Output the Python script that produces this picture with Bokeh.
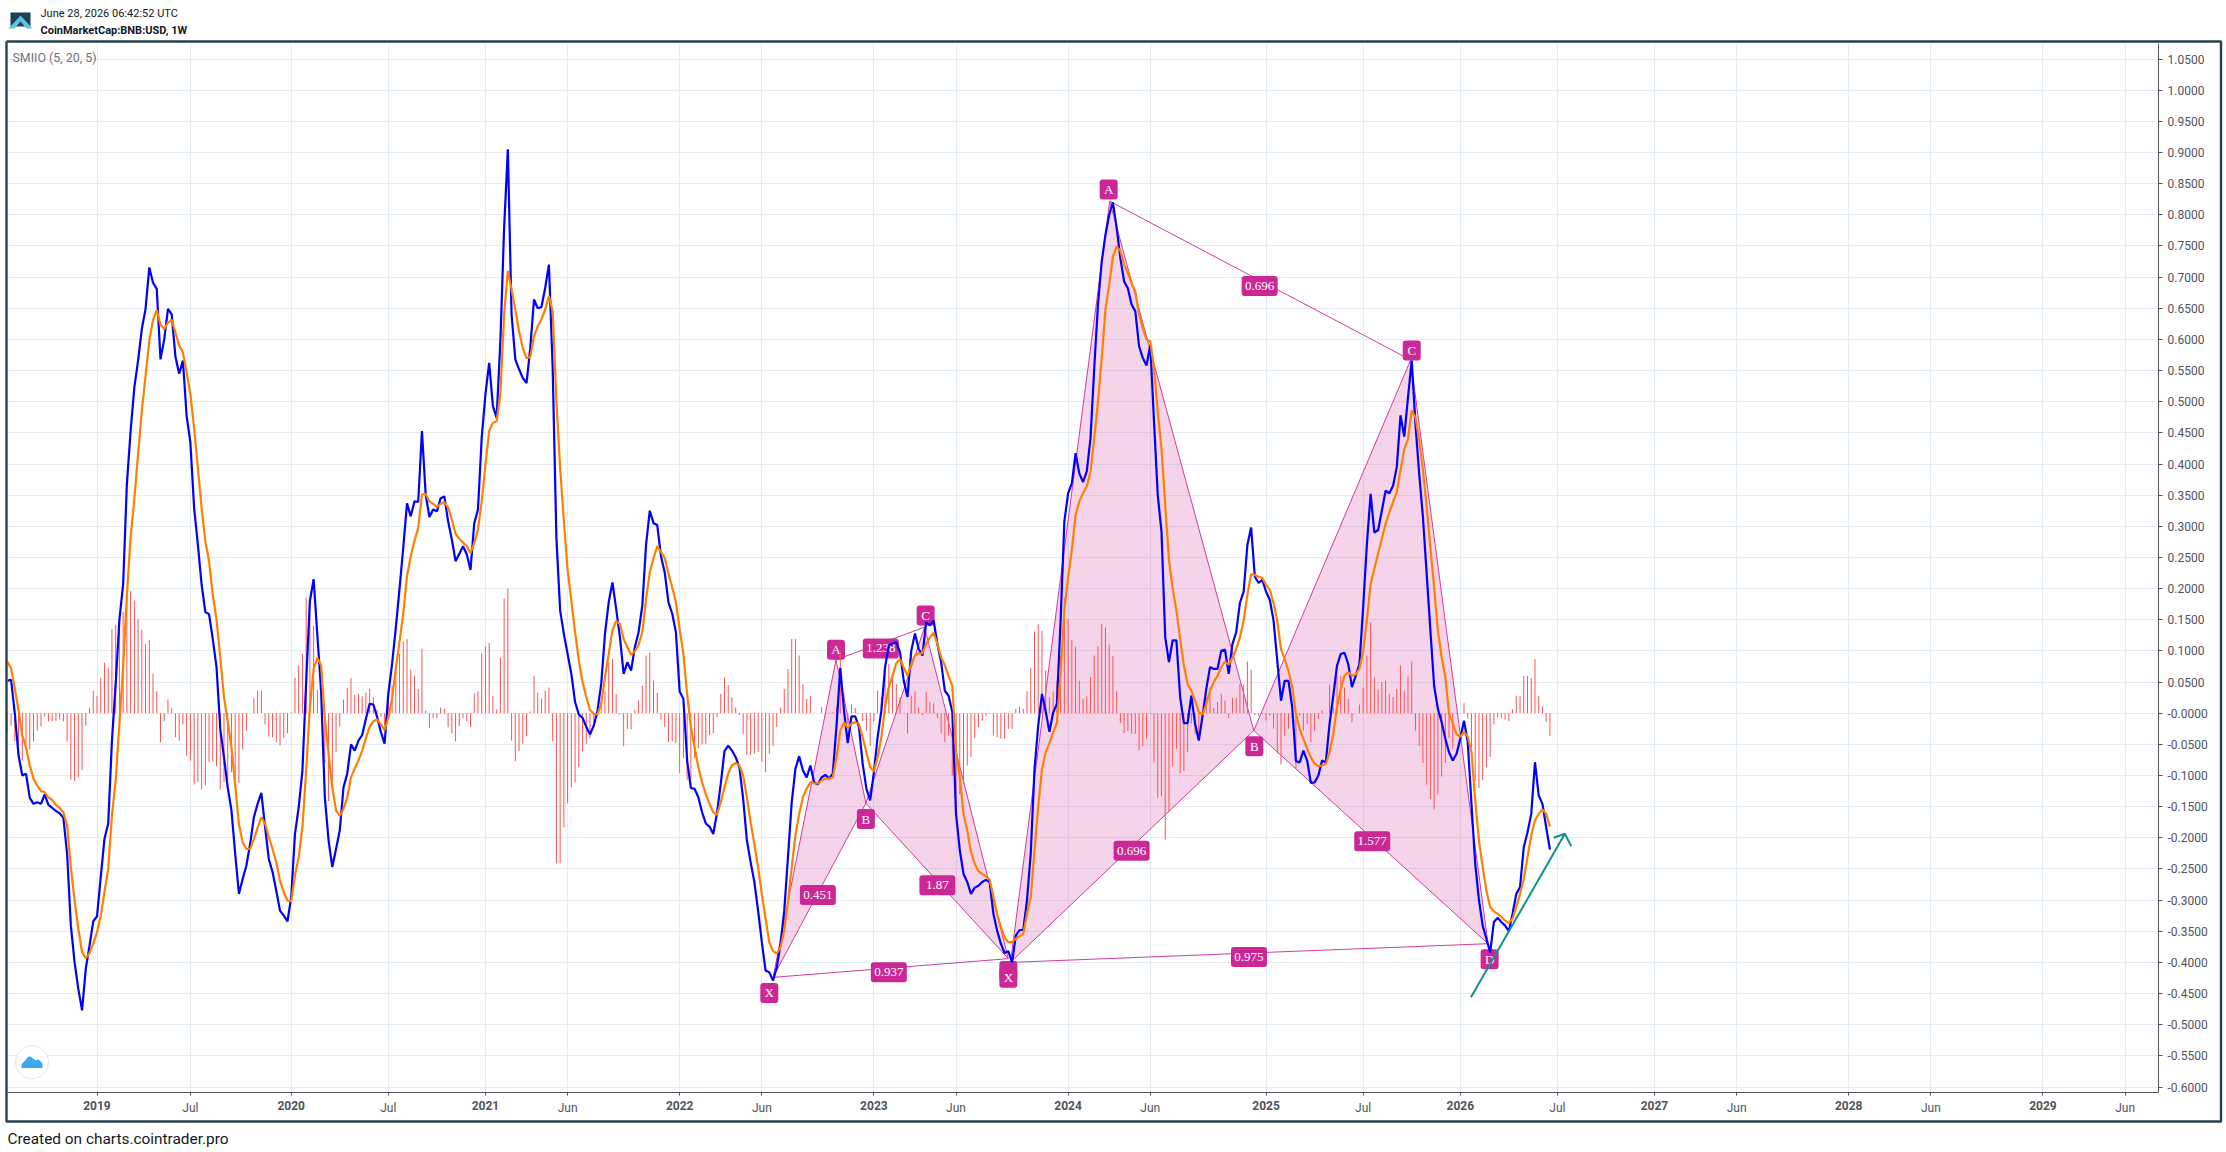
import numpy as np
import pandas as pd
from bokeh.embed import file_html
from bokeh.resources import INLINE
from bokeh.plotting import figure
from bokeh.core.properties import value
from bokeh.models import Range1d, LinearAxis, FixedTicker, Grid

title_date = "June 28, 2026 06:42:52 UTC"
title_symbol = "CoinMarketCap:BNB:USD, 1W"
study_label = "SMIIO (5, 20, 5)"
footer = "Created on charts.cointrader.pro"

first_week = "2018-07-23"

smiio = [
 .052,.0535,-.001,-.068,-.100,-.097,-.136,-.1455,-.143,-.1455,
 -.1305,-.147,-.152,-.157,-.1605,-.168,-.226,-.341,-.400,-.4425,
 -.477,-.410,-.373,-.334,-.326,-.263,-.2017,-.1776,-.044,.047,
 .15,.207,.368,.453,.523,.566,.617,.649,.7155,.691,
 .681,.568,.60,.649,.64,.572,.545,.566,.477,.4345,
 .33,.271,.207,.1625,.159,.119,.074,-.025,-.071,-.119,
 -.156,-.226,-.29,-.266,-.2445,-.21,-.167,-.1455,-.128,-.183,
 -.234,-.255,-.285,-.317,-.325,-.334,-.295,-.194,-.151,-.092,
 .05,.18,.215,.125,.036,-.135,-.204,-.247,-.218,-.188,
 -.119,-.097,-.05,-.06,-.044,-.035,-.009,.015,.014,-.006,
 -.03,-.049,.031,.079,.137,.20,.266,.337,.316,.34,
 .339,.453,.351,.315,.327,.324,.345,.348,.308,.279,
 .244,.256,.268,.255,.23,.305,.327,.442,.512,.5625,
 .493,.474,.597,.779,.905,.64,.568,.552,.538,.53,
 .586,.664,.65,.652,.683,.72,.554,.281,.165,.127,
 .095,.063,.018,-.002,-.0075,-.022,-.034,-.02,.004,.047,
 .127,.178,.21,.1675,.122,.063,.082,.0685,.106,.13,
 .173,.27,.325,.305,.302,.252,.226,.178,.16,.13,
 .035,.023,-.076,-.12,-.1215,-.135,-.159,-.177,-.182,-.194,
 -.16,-.1135,-.061,-.052,-.06,-.0706,-.087,-.1375,-.204,-.239,
 -.271,-.317,-.3676,-.413,-.416,-.429,-.408,-.37,-.317,-.231,
 -.143,-.089,-.069,-.092,-.103,-.084,-.111,-.1145,-.103,-.099,
 -.105,-.097,-.02,.073,.004,-.048,-.005,-.005,-.022,-.081,
 -.1215,-.14,-.095,-.0385,.004,.074,.1086,.112,.114,.098,
 .052,.026,.10,.128,.103,.0925,.146,.141,.149,.111,
 .082,.036,.028,.002,-.162,-.22,-.258,-.271,-.29,-.28,
 -.277,-.271,-.2675,-.271,-.322,-.349,-.37,-.385,-.382,-.40,
 -.357,-.348,-.348,-.30,-.225,-.09,-.02,.031,.003,-.03,
 .001,.015,.149,.308,.353,.369,.4175,.385,.371,.388,
 .4415,.554,.656,.725,.768,.80,.82,.779,.73,.693,
 .682,.656,.645,.589,.57,.558,.591,.468,.35,.292,
 .122,.082,.117,.117,.026,-.016,-.016,.028,-.017,-.044,
 -.004,.039,.074,.071,.071,.10,.102,.063,.111,.13,
 .177,.195,.27,.298,.219,.209,.214,.195,.182,.149,
 .0845,.02,.052,.052,.01,-.077,-.079,-.06,-.076,-.112,
 -.111,-.10,-.076,-.079,-.017,.028,.0765,.095,.097,.079,
 .042,.06,.079,.17,.272,.352,.29,.294,.325,.357,
 .353,.365,.395,.478,.444,.507,.566,.464,.384,.315,
 .224,.133,.044,.007,-.014,-.041,-.063,-.076,-.065,-.041,
 -.012,-.0465,-.1455,-.242,-.30,-.341,-.362,-.384,-.335,-.3285,
 -.335,-.341,-.35,-.322,-.29,-.279,-.215,-.191,-.1616,-.0787,
 -.132,-.1455,-.183,-.219,
]

signal = [
 .083,.072,.039,.004,-.036,-.055,-.084,-.105,-.116,-.125,
 -.127,-.135,-.139,-.147,-.152,-.159,-.18,-.247,-.301,-.346,
 -.384,-.393,-.385,-.37,-.3515,-.325,-.287,-.25,-.164,-.108,
 -.017,.074,.19,.282,.3435,.416,.485,.5415,.598,.631,
 .647,.6235,.6165,.627,.6315,.611,.59,.579,.547,.512,
 .4585,.394,.33,.2765,.244,.19,.15,.09,.026,-.014,
 -.055,-.116,-.178,-.207,-.218,-.218,-.202,-.184,-.167,-.1766,
 -.199,-.218,-.239,-.269,-.287,-.301,-.302,-.26,-.231,-.183,
 -.092,.01,.071,.089,.0765,-.009,-.065,-.119,-.156,-.165,
 -.1536,-.135,-.103,-.089,-.076,-.06,-.04,-.022,-.013,-.01,
 -.018,-.027,-.0075,.023,.071,.115,.16,.22,.252,.277,
 .297,.351,.352,.34,.336,.331,.336,.339,.33,.311,
 .288,.28,.274,.268,.257,.273,.295,.34,.399,.453,
 .466,.469,.512,.64,.71,.68,.648,.613,.586,.57,
 .5715,.605,.621,.632,.648,.67,.645,.501,.394,.308,
 .23,.181,.13,.085,.05,.026,.005,-.001,-.002,.015,
 .058,.095,.133,.148,.143,.119,.106,.094,.099,.11,
 .13,.183,.226,.249,.268,.259,.249,.224,.202,.178,
 .135,.095,.031,-.022,-.055,-.087,-.111,-.13,-.1456,-.159,
 -.163,-.143,-.119,-.097,-.084,-.08,-.084,-.10,-.135,-.175,
 -.21,-.247,-.29,-.33,-.3676,-.382,-.386,-.3756,-.349,-.303,
 -.247,-.196,-.1616,-.135,-.121,-.111,-.1124,-.113,-.108,-.105,
 -.105,-.103,-.071,-.028,-.0144,-.0235,-.017,-.0144,-.017,-.0385,
 -.0626,-.087,-.093,-.071,-.0385,.01,.042,.06,.08,.087,
 .073,.06,.079,.0926,.096,.096,.111,.122,.129,.111,
 .09,.0765,.06,.044,-.06,-.103,-.1616,-.188,-.223,-.242,
 -.2536,-.258,-.262,-.267,-.295,-.322,-.3435,-.36,-.3676,-.3676,
 -.362,-.358,-.354,-.322,-.295,-.22,-.15,-.09,-.063,-.048,
 -.031,-.016,.065,.165,.219,.262,.318,.34,.353,.364,
 .388,.4415,.5,.57,.648,.688,.733,.749,.742,.72,
 .7065,.69,.677,.64,.618,.6,.597,.554,.484,.425,
 .334,.246,.2,.165,.119,.0765,.047,.036,.02,.0016,
 -.002,.015,.036,.05,.06,.074,.083,.078,.089,.103,
 .122,.149,.19,.223,.222,.219,.217,.206,.198,.177,
 .148,.103,.087,.068,.042,-.001,-.025,-.0412,-.057,-.071,
 -.081,-.085,-.084,-.082,-.0626,-.033,.01,.039,.06,.066,
 .06,.062,.071,.10,.15,.2076,.2317,.256,.28,.304,
 .3226,.339,.355,.39,.424,.44,.486,.475,.438,.39,
 .331,.266,.202,.133,.09,.058,-.001,-.017,-.034,-.0375,
 -.03,-.0375,-.0626,-.14,-.204,-.247,-.285,-.311,-.318,-.322,
 -.327,-.333,-.337,-.33,-.311,-.29,-.266,-.231,-.196,-.172,
 -.1616,-.1546,-.1616,-.182,
]

histogram = [
 -.0305,-.0198,-.045,-.0733,-.076,-.049,-.058,-.0455,-.028,-.021,
 -.005,-.013,-.013,-.012,-.01,-.013,-.0455,-.1065,-.109,-.103,
 -.091,-.02,.0086,.036,.028,.057,.081,.073,.135,.142,
 .151,.1625,.197,.196,.181,.151,.134,.111,.117,.063,
 .035,-.0465,-.013,.022,.008,-.0385,-.044,-.018,-.068,-.076,
 -.1145,-.11,-.1225,-.116,-.0787,-.0776,-.085,-.1225,-.111,-.108,
 -.0947,-.117,-.112,-.058,-.028,0,.024,.036,.036,-.018,
 -.0375,-.0385,-.0465,-.052,-.04,-.032,.0016,.057,.0765,.095,
 .1855,.16,.14,.037,0,-.08,-.141,-.12,-.0626,-.021,
 .022,.041,.056,.029,.031,.027,.033,.039,.025,.005,
 -.006,-.02,.031,.0444,.0712,.095,.115,.119,.0702,.0605,
 .039,.1033,.004,-.024,-.008,-.008,.009,.0075,-.0225,-.032,
 -.045,-.021,-.008,-.013,-.0225,.032,.035,.096,.107,.113,
 .028,.006,.0894,.184,.1997,-.044,-.077,-.061,-.049,-.037,
 .0027,.06,.033,.0236,.036,.0412,-.045,-.241,-.241,-.183,
 -.1445,-.1188,-.1108,-.0867,-.061,-.0492,-.04,-.015,-.005,.02,
 .035,.0813,.0872,.03,-.0021,-.053,-.0257,-.0257,.0054,.0203,
 .0444,.0926,.0969,.0525,.033,-.0102,-.0225,-.0466,-.0455,-.048,
 -.0964,-.072,-.107,-.107,-.072,-.056,-.05,-.049,-.035,-.032,
 -.0064,.031,.0573,.045,.0257,.009,-.0027,-.033,-.067,-.067,
 -.065,-.0626,-.0776,-.0947,-.065,-.053,-.0225,.009,.039,.071,
 .119,.119,.0926,.047,.023,.028,.001,0,.0096,0,
 .001,.0016,.0096,.1006,.031,-.017,.014,.0086,-.001,-.012,
 -.028,-.053,-.013,.036,.026,.066,.079,.058,.047,.026,
 0,-.033,.028,.035,.0096,-.0027,.034,.018,.016,-.008,
 -.033,-.0465,-.036,-.1,-.13,-.13,-.113,-.084,-.07,-.04,
 -.0225,-.012,-.004,-.001,-.036,-.0385,-.041,-.041,-.025,-.025,
 .007,.0107,.007,.035,.073,.131,.143,.132,.0685,.0257,
 .035,.052,.0926,.186,.151,.118,.107,.052,.023,.027,
 .058,.0926,.1075,.143,.138,.11,.0915,.035,-.016,-.032,
 -.029,-.033,-.033,-.06,-.053,-.041,-.001,-.0787,-.136,-.133,
 -.203,-.159,-.085,-.057,-.096,-.093,-.0626,-.017,-.033,-.044,
 -.001,.026,.041,.0086,.018,.031,.02,-.008,.0246,.0246,
 .047,.046,.083,.0696,-.003,-.004,-.001,-.0118,-.004,-.025,
 -.065,-.082,-.036,-.025,-.009,-.089,-.004,-.028,-.017,-.0465,
 -.028,-.009,.005,0,.046,.0096,.06,.06,.041,.023,
 -.0144,0,.014,.041,.0926,.146,.057,.038,.05,.052,
 .031,.026,.039,.0765,.036,.059,.083,-.028,-.053,-.08,
 -.1145,-.1375,-.1546,-.1305,-.1017,-.08,-.04,-.057,-.001,-.001,
 .016,-.0086,-.056,-.109,-.12,-.107,-.087,-.07,-.018,-.0064,
 -.008,-.01,-.013,.006,.028,.027,.06,.06,.056,.087,
 .028,.0107,-.0144,-.037,
]

month_ticks = ["2019-07-01","2020-07-06","2021-06-07","2022-06-06","2023-06-05","2024-06-03",
               "2025-07-07","2026-07-06","2027-06-07","2028-06-05","2029-06-04"]
month_labels = ["Jul","Jul","Jun","Jun","Jun","Jun","Jul","Jul","Jun","Jun","Jun"]
year_ticks = ["2019-01-07","2020-01-06","2021-01-04","2022-01-03","2023-01-02","2024-01-01",
              "2025-01-06","2026-01-05","2027-01-04","2028-01-03","2029-01-01"]
year_labels = ["2019","2020","2021","2022","2023","2024","2025","2026","2027","2028","2029"]
y_tick_labels = ["1.0500","1.0000","0.9500","0.9000","0.8500","0.8000","0.7500","0.7000","0.6500",
                 "0.6000","0.5500","0.5000","0.4500","0.4000","0.3500","0.3000","0.2500","0.2000",
                 "0.1500","0.1000","0.0500","-0.0000","-0.0500","-0.1000","-0.1500","-0.2000",
                 "-0.2500","-0.3000","-0.3500","-0.4000","-0.4500","-0.5000","-0.5500","-0.6000"]

# Harmonic patterns: X, A, B, C, D pivots
p1_dates = ["2022-06-27","2022-10-23","2022-12-18","2023-04-07","2023-09-11"]
p1_vals = [-.424,.0857,-.1445,.138,-.394]
p2_dates = ["2023-09-15","2024-03-19","2024-12-14","2025-10-04","2026-02-26"]
p2_vals = [-.40,.8218,-.0278,.567,-.370]

letter_text = ["X","A","B","C","D","X","A","B","C","D"]
letter_dates = ["2022-06-20","2022-10-23","2022-12-18","2023-04-09","2023-09-11",
                "2023-09-11","2024-03-17","2024-12-15","2025-10-06","2026-03-01"]
letter_vals = [-.449,.102,-.170,.157,-.414,-.4247,.8406,-.053,.582,-.395]

ratio_text = ["0.451","1.238","1.87","0.937","0.696","0.696","1.577","0.975"]
ratio_dates = ["2022-09-19","2023-01-15","2023-05-01","2023-01-30",
               "2024-04-29","2024-12-25","2025-07-24","2024-12-05"]
ratio_vals = [-.292,.104,-.276,-.4157,-.2209,.6858,-.2056,-.3913]

trend_dates = ["2026-01-25","2026-07-20"]
trend_vals = [-.456,-.1935]
head_dates = ["2026-06-29","2026-07-20","2026-08-01"]
head_vals = [-.2,-.1935,-.2135]

def ms(d):
    return pd.Timestamp(d).value / 1e6

def msl(ds):
    return [ms(d) for d in ds]

assert len(smiio) == len(signal) == len(histogram) == 414, (len(smiio), len(signal), len(histogram))
weeks = pd.date_range(first_week, periods=len(smiio), freq="7D")
wx = [t.value / 1e6 for t in weeks]

W, H = 2226, 1152
FL, FR, FT, FB = 7, 2158, 43, 1092
DAY = 86400000.0
x0 = ms("2019-01-07")
px_per_day = 3.735 / 7
x_start = x0 - (96.5 - FL) / px_per_day * DAY
x_end = x0 + (FR - 96.5) / px_per_day * DAY
y_top = (712.7 - FT) / 623
y_bot = (712.7 - FB) / 623

GRID = "#e3edf3"
AXIS = "#50535e"
PINK = "#cc2895"
ABS = {"position": "absolute", "left": "0px", "top": "0px"}

p = figure(width=W, height=H, output_backend="svg", toolbar_location=None,
           x_range=Range1d(x_start, x_end), y_range=Range1d(y_bot, y_top),
           x_axis_location=None, y_axis_location=None,
           min_border_left=FL, min_border_right=W - FR, min_border_top=FT, min_border_bottom=H - FB,
           styles=ABS)
p.grid.visible = False
p.outline_line_color = None
p.background_fill_color = "white"

all_x = sorted(msl(month_ticks) + msl(year_ticks))
overrides = {ms(d): l for d, l in zip(month_ticks, month_labels)}
overrides.update({ms(d): " " for d in year_ticks})
xax = LinearAxis(ticker=FixedTicker(ticks=all_x), major_label_overrides=overrides,
                 axis_line_color=AXIS, major_tick_line_color=AXIS, major_tick_in=0, major_tick_out=3,
                 minor_tick_line_color=None, major_label_text_color=AXIS,
                 major_label_text_font="Roboto", major_label_text_font_size="12px",
                 major_label_standoff=5)
p.add_layout(xax, "below")

y_ticks = [float(s) + 0.0 for s in y_tick_labels]
yax = LinearAxis(ticker=FixedTicker(ticks=y_ticks),
                 major_label_overrides={t: s for t, s in zip(y_ticks, y_tick_labels)},
                 axis_line_color=AXIS, major_tick_line_color=AXIS, major_tick_in=0, major_tick_out=4,
                 minor_tick_line_color=None, major_label_text_color=AXIS,
                 major_label_text_font="Roboto", major_label_text_font_size="12px",
                 major_label_standoff=5)
p.add_layout(yax, "right")

p.add_layout(Grid(dimension=0, ticker=FixedTicker(ticks=all_x), grid_line_color=GRID, grid_line_width=1))
p.add_layout(Grid(dimension=1, ticker=FixedTicker(ticks=y_ticks), grid_line_color=GRID, grid_line_width=1))

def pattern(dates, vals):
    xs = msl(dates)
    for tri in ((0, 1, 2), (2, 3, 4)):
        p.patch([xs[i] for i in tri], [vals[i] for i in tri], fill_color=PINK, fill_alpha=0.2,
                line_color=PINK, line_width=1, line_alpha=0.9)
    for a, b in ((1, 3), (0, 4)):
        p.line([xs[a], xs[b]], [vals[a], vals[b]], line_color=PINK, line_width=1, line_alpha=0.9)

pattern(p1_dates, p1_vals)
pattern(p2_dates, p2_vals)

p.rect(msl(ratio_dates), ratio_vals, width=36, height=20, width_units="screen", height_units="screen",
       fill_color=PINK, line_color=None, border_radius=3)
p.text(msl(ratio_dates), ratio_vals, text=ratio_text, text_color="white", text_align="center",
       text_baseline="middle", text_font=value("Liberation Serif"), text_font_size="13px")
for t, d, v in zip(letter_text, letter_dates, letter_vals):
    p.rect([ms(d)], [v], width=18, height=20, width_units="screen", height_units="screen",
           fill_color=PINK, line_color=None, border_radius=3)
    p.text([ms(d)], [v], text=[t], text_color="white", text_align="center",
           text_baseline="middle", text_font=value("Liberation Serif"), text_font_size="13px")

p.segment(wx, [0] * len(wx), wx, histogram, line_color="#ff5252", line_width=1)
p.line(wx, smiio, line_color="#0000ff", line_width=2.2)
p.line(wx, signal, line_color="#ff7f00", line_width=2.2)

p.line(msl(trend_dates), trend_vals, line_color="#0e9486", line_width=2)
p.line(msl(head_dates), head_vals, line_color="#0e9486", line_width=2)

# Transparent figure: the bold year labels of the time axis
py = figure(width=W, height=H, output_backend="svg", toolbar_location=None,
            x_range=Range1d(x_start, x_end), y_range=Range1d(y_bot, y_top),
            x_axis_location=None, y_axis_location=None,
            min_border_left=FL, min_border_right=W - FR, min_border_top=FT, min_border_bottom=H - FB,
            background_fill_color=None, border_fill_color=None, styles=ABS)
py.grid.visible = False
py.outline_line_color = None
py.add_layout(LinearAxis(ticker=FixedTicker(ticks=msl(year_ticks)),
                         major_label_overrides={ms(d): t for d, t in zip(year_ticks, year_labels)},
                         axis_line_color=None, major_tick_line_color=None, major_tick_in=0, major_tick_out=3,
                         minor_tick_line_color=None, major_label_text_color=AXIS,
                         major_label_text_font="Roboto", major_label_text_font_size="12px",
                         major_label_text_font_style="bold", major_label_standoff=5), "below")

# Transparent page-sized figure: chart frame, logos and page texts
d = figure(width=W, height=H, output_backend="svg", toolbar_location=None,
           x_range=Range1d(0, W), y_range=Range1d(H, 0), x_axis_location=None, y_axis_location=None,
           min_border=0, background_fill_color=None, border_fill_color=None, styles=ABS)
d.grid.visible = False
d.outline_line_color = None

d.line([6, 2220.5, 2220.5, 6, 6], [41, 41, 1121, 1121, 41], line_color="#24404f", line_width=2.4)
d.patch([10, 30, 30, 10], [12, 12, 26, 26], fill_color="#1f3f54", line_color=None)
d.patch([8, 20, 32, 26, 20, 14], [28, 15, 28, 28, 21, 28], fill_color="#5cc5e5", line_color=None)

d.scatter([31.5], [1061.7], size=33, marker="circle", fill_color="white", line_color="#e8e8e8", line_width=1)
d.patch([21, 28, 30, 35, 38, 42, 42, 21], [1064, 1056, 1056, 1060, 1059, 1063, 1067.5, 1067.5],
        fill_color="#39a9f0", line_color=None)

def page_text(x, y, t, color="#131722", size="12px", style="normal"):
    d.text([x], [y], text=[t], text_color=color, text_font=value("Roboto"), text_font_size=size,
           text_font_style=style, text_baseline="middle", text_align="left")

page_text(40, 12.5, title_date, size="11px")
page_text(40, 30, title_symbol, size="11px", style="bold")
page_text(12, 57, study_label, color="#6f7280", size="12.4px")
page_text(7, 1138, footer, size="15.4px")

open("out.html", "w").write(file_html([p, py, d], INLINE))
